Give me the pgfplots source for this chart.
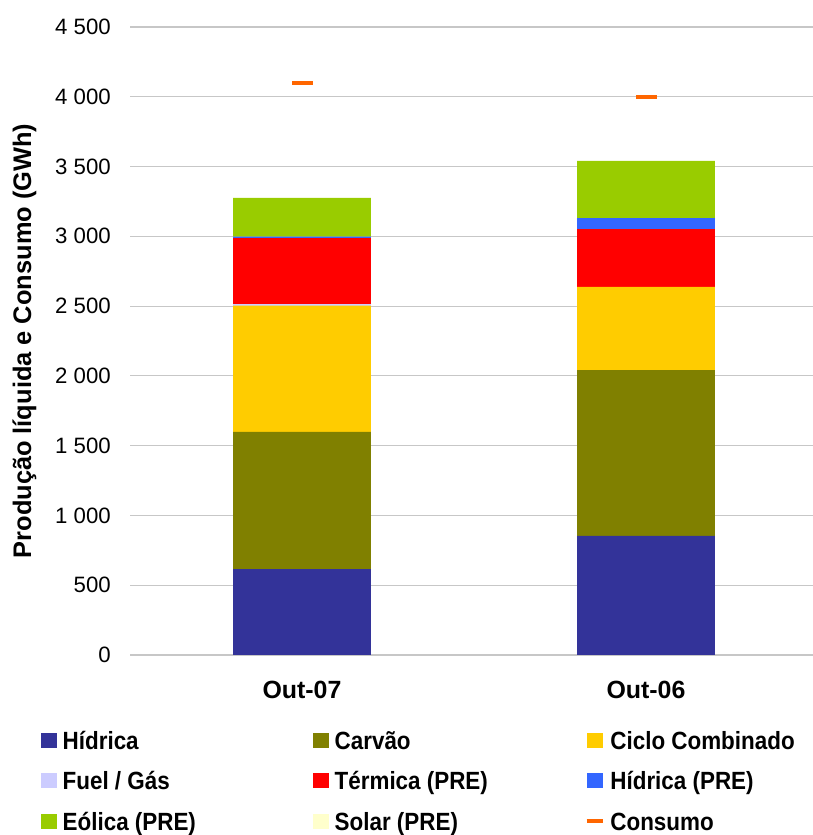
\documentclass[border=0pt]{standalone}
\usepackage{pgfplots}
\pgfplotsset{compat=1.18}
\usepackage{fontspec}
\setmainfont{Liberation Sans}
\definecolor{hid}{HTML}{333399}
\definecolor{carv}{HTML}{808000}
\definecolor{ciclo}{HTML}{FFCC00}
\definecolor{fuel}{HTML}{CCCCFF}
\definecolor{term}{HTML}{FF0000}
\definecolor{hidpre}{HTML}{3366FF}
\definecolor{eol}{HTML}{99CC00}
\definecolor{solar}{HTML}{FFFFCC}
\definecolor{cons}{HTML}{FF6600}
\pgfplotsset{
  sq legend/.style={legend image code/.code={\fill[##1] (0bp,-5bp) rectangle (16bp,10bp);}},
}
\newcommand{\lt}[1]{\makebox[256bp][l]{\hspace*{6bp}\scalebox{0.9}[1]{#1}}}
\begin{document}
\begin{tikzpicture}
\useasboundingbox (0,0) rectangle (813bp,835bp);
\begin{axis}[
  at={(130bp,180bp)}, anchor=south west,
  scale only axis, width=688bp, height=628bp,
  xmin=-0.5, xmax=1.5, ymin=0, ymax=4500,
  ybar stacked, bar width=0.4,
  xtick={0,1}, xticklabels={Out-07,Out-06},
  ytick={0,500,...,4500},
  axis line style={draw=none},
  major tick length=0pt,
  ymajorgrids, grid style={color=black!22, line width=1.2bp},
  scaled y ticks=false,
  /pgf/number format/.cd, 1000 sep={\ }, assume math mode=true, /pgfplots/.cd,
  yticklabel style={font=\fontsize{22.3}{26}\selectfont, inner sep=0pt, anchor=east, xshift=-19bp},
  xticklabel style={font=\bfseries\fontsize{25}{28}\selectfont, inner sep=0pt, anchor=north, yshift=-26bp},
  ylabel={Produção líquida e Consumo (GWh)},
  ylabel style={font=\bfseries\fontsize{25.5}{28}\selectfont, at={([xshift=-105.5bp]axis description cs:0,0.5)}, anchor=center},
  legend columns=3,
  legend style={at={(axis description cs:0,0)}, anchor=north west, xshift=-89.5bp, yshift=-76bp,
    draw=none, fill=none, inner sep=0pt, column sep=0pt, row sep=17.5bp,
    font=\bfseries\fontsize{25}{28}\selectfont,
    nodes={inner sep=0pt, text height=18bp, text depth=5bp},
    cells={anchor=west}},
]
\addplot[fill=hid, draw=none, sq legend] coordinates {(0,616) (1,853)};
\addlegendentry{\lt{Hídrica}}
\addplot[fill=carv, draw=none, sq legend] coordinates {(0,982) (1,1189)};
\addlegendentry{\lt{Carvão}}
\addplot[fill=ciclo, draw=none, sq legend] coordinates {(0,905) (1,595)};
\addlegendentry{\lt{Ciclo Combinado}}
\addplot[fill=fuel, draw=none, sq legend] coordinates {(0,12) (1,0)};
\addlegendentry{\lt{Fuel / Gás}}
\addplot[fill=term, draw=none, sq legend] coordinates {(0,473) (1,415)};
\addlegendentry{\lt{Térmica (PRE)}}
\addplot[fill=hidpre, draw=none, sq legend] coordinates {(0,9) (1,79)};
\addlegendentry{\lt{Hídrica (PRE)}}
\addplot[fill=eol, draw=none, sq legend] coordinates {(0,278) (1,409)};
\addlegendentry{\lt{Eólica (PRE)}}
\addplot[fill=solar, draw=none, sq legend] coordinates {(0,0) (1,0)};
\addlegendentry{\lt{Solar (PRE)}}
\addlegendimage{legend image code/.code={\draw[cons, line width=3.7bp] (0bp,2.5bp) -- (16bp,2.5bp);}}
\addlegendentry{\lt{Consumo}}
\end{axis}
\begin{axis}[
  at={(130bp,180bp)}, anchor=south west,
  scale only axis, width=688bp, height=628bp,
  xmin=-0.5, xmax=1.5, ymin=0, ymax=4500,
  hide axis,
]
\addplot[only marks, mark=-, mark size=10.5bp, mark options={draw=cons, line width=3.7bp}] coordinates {(0,4101) (1,4000)};
\end{axis}
\end{tikzpicture}
\end{document}
